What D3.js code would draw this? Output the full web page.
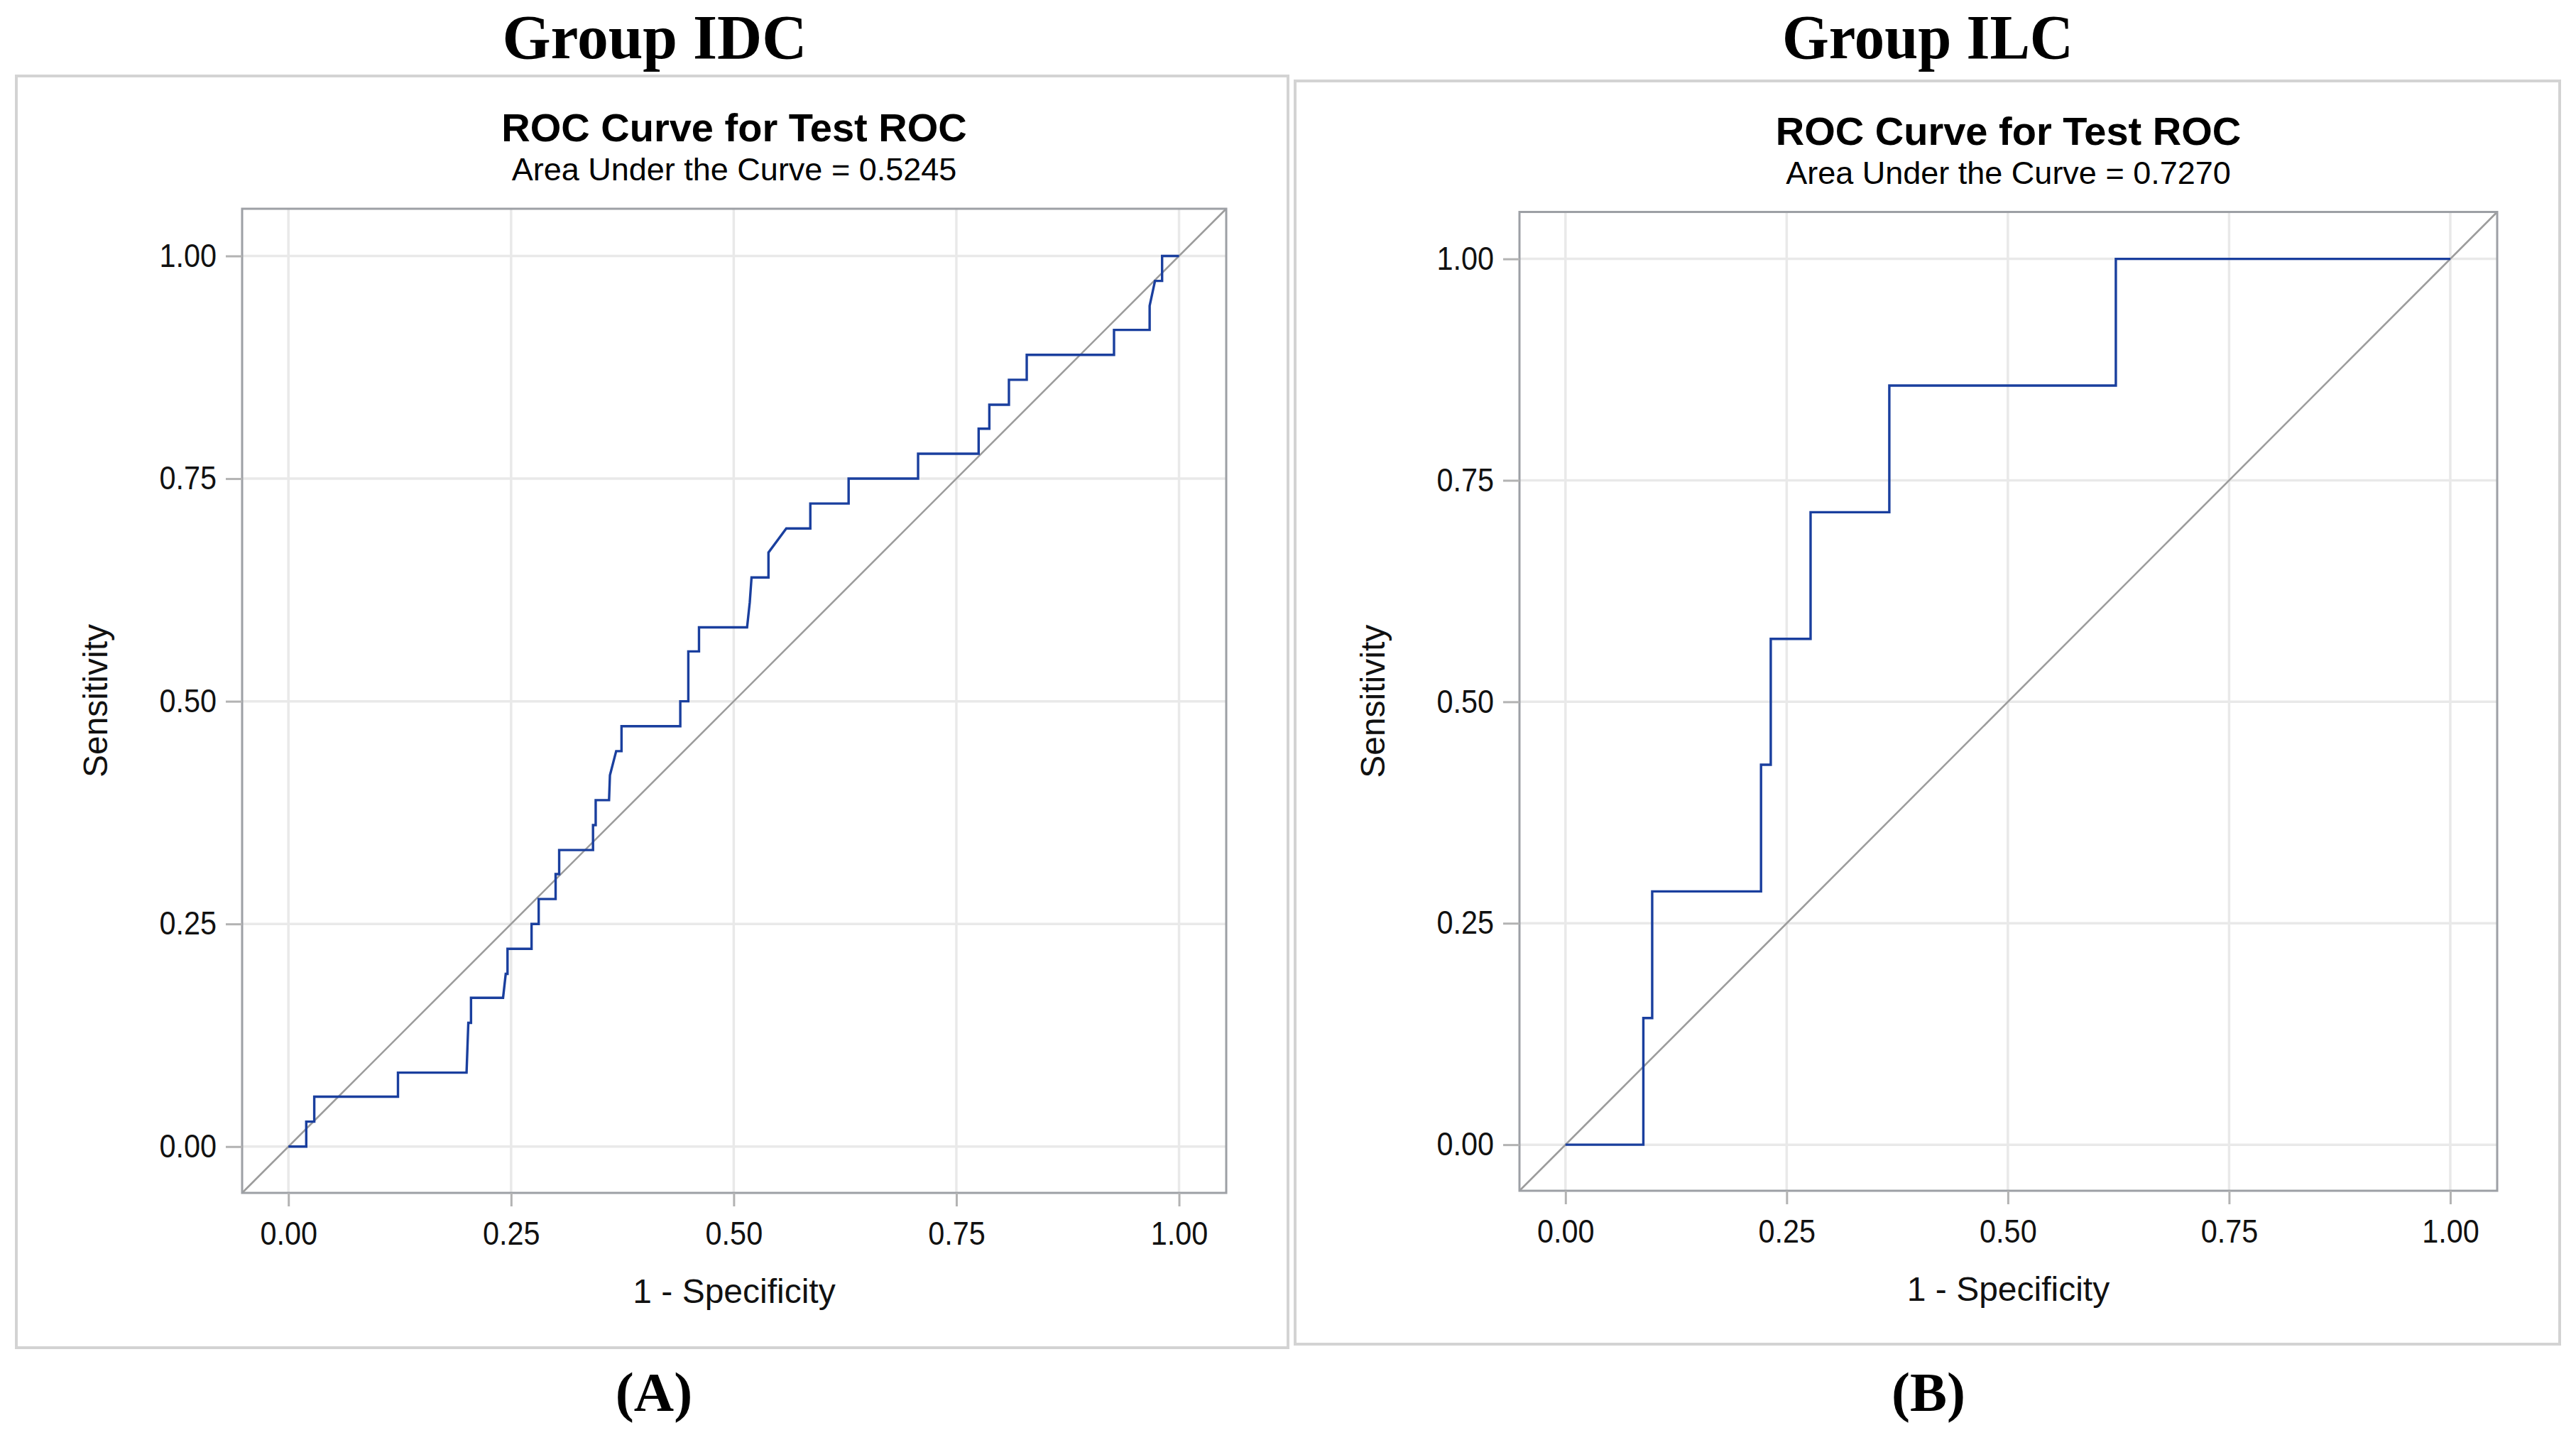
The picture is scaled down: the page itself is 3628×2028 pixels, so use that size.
<!DOCTYPE html>
<html><head><meta charset="utf-8">
<script src="https://cdn.jsdelivr.net/npm/d3@7"></script>
<style>body{margin:0;background:#fff}svg{display:block}</style>
</head><body>
<svg id="chart" width="3628" height="2028"></svg>
<script>
// ---- data ----
const fprA = [0.000,0.020,0.020,0.029,0.029,0.123,0.123,0.200,0.201,0.202,0.205,0.205,0.241,0.244,0.246,0.246,0.273,0.273,0.281,0.281,0.300,0.300,0.304,0.304,0.342,0.342,0.345,0.345,0.360,0.361,0.368,0.374,0.374,0.440,0.440,0.449,0.449,0.461,0.461,0.515,0.518,0.520,0.539,0.539,0.559,0.586,0.586,0.629,0.629,0.707,0.707,0.775,0.775,0.787,0.787,0.809,0.809,0.829,0.829,0.927,0.927,0.967,0.967,0.973,0.981,0.981,1.000];
const tprA = [0.000,0.000,0.028,0.028,0.056,0.056,0.083,0.083,0.111,0.139,0.139,0.167,0.167,0.194,0.194,0.222,0.222,0.250,0.250,0.278,0.278,0.306,0.306,0.333,0.333,0.361,0.361,0.389,0.389,0.417,0.444,0.444,0.472,0.472,0.500,0.500,0.556,0.556,0.583,0.583,0.611,0.639,0.639,0.667,0.694,0.694,0.722,0.722,0.750,0.750,0.778,0.778,0.806,0.806,0.833,0.833,0.861,0.861,0.889,0.889,0.917,0.917,0.944,0.972,0.972,1.000,1.000];
const fprB = [0.000,0.088,0.088,0.098,0.098,0.221,0.221,0.232,0.232,0.277,0.277,0.366,0.366,0.622,0.622,1.000];
const tprB = [0.000,0.000,0.143,0.143,0.286,0.286,0.429,0.429,0.571,0.571,0.714,0.714,0.857,0.857,1.000,1.000];
const tickValues = [0, 0.25, 0.5, 0.75, 1];
const tickLabels = ["0.00", "0.25", "0.50", "0.75", "1.00"];
const groupTitles = ["Group IDC", "Group ILC"];
const panelLetters = ["(A)", "(B)"];
const aucValues = ["0.5245", "0.7270"];
const plotTitle = "ROC Curve for Test ROC";
const xLabel = "1 - Specificity";
const yLabel = "Sensitivity";
const axisDomain = [-0.052, 1.053];

// ---- layout ----
const panels = [
  {fpr: fprA, tpr: tprA, frame: [23, 107, 1814, 1898], box: [341, 294, 1727, 1680], gx: 922, gw: 429, lx: 921},
  {fpr: fprB, tpr: tprB, frame: [1824, 114, 3605, 1893], box: [2140, 298.5, 3517, 1677], gx: 2715, gw: 410, lx: 2716}
];
const SANS = "'Liberation Sans', Arial, Helvetica, sans-serif";
const SERIF = "'Liberation Serif', 'Times New Roman', serif";

const svg = d3.select("#chart");
svg.append("rect").attr("width", 3628).attr("height", 2028).attr("fill", "#fff");

function squeeze(sel, ratio) {
  sel.each(function () {
    const w = this.getComputedTextLength();
    d3.select(this).attr("textLength", w * ratio).attr("lengthAdjust", "spacingAndGlyphs");
  });
}

panels.forEach((p, i) => {
  const [fx0, fy0, fx1, fy1] = p.frame;
  const [bx0, by0, bx1, by1] = p.box;
  const cx = (bx0 + bx1) / 2, cy = (by0 + by1) / 2;

  // outer panel frame
  svg.append("rect").attr("x", fx0).attr("y", fy0).attr("width", fx1 - fx0).attr("height", fy1 - fy0)
    .attr("fill", "none").attr("stroke", "#d3d3d3").attr("stroke-width", 4);

  // group title & letter
  svg.append("text").attr("x", p.gx).attr("y", 82).attr("text-anchor", "middle")
    .attr("font-family", SERIF).attr("font-weight", "bold").attr("font-size", 88)
    .attr("textLength", p.gw).attr("lengthAdjust", "spacingAndGlyphs").text(groupTitles[i]);
  svg.append("text").attr("x", p.lx).attr("y", 1987).attr("text-anchor", "middle")
    .attr("font-family", SERIF).attr("font-weight", "bold").attr("font-size", 78).text(panelLetters[i]);

  // plot titles
  svg.append("text").attr("x", cx).attr("y", by0 - 95).attr("text-anchor", "middle")
    .attr("font-family", SANS).attr("font-weight", "bold").attr("font-size", 56).attr("fill", "#000").text(plotTitle);
  svg.append("text").attr("x", cx).attr("y", by0 - 40).attr("text-anchor", "middle")
    .attr("font-family", SANS).attr("font-size", 45).attr("fill", "#000").text("Area Under the Curve = " + aucValues[i]);

  const x = d3.scaleLinear().domain(axisDomain).range([bx0, bx1]);
  const y = d3.scaleLinear().domain(axisDomain).range([by1, by0]);

  const g = svg.append("g");
  // gridlines
  g.selectAll(".gx").data(tickValues).enter().append("line")
    .attr("x1", d => x(d)).attr("x2", d => x(d)).attr("y1", by0).attr("y2", by1)
    .attr("stroke", "#e9e9e9").attr("stroke-width", 3.5);
  g.selectAll(".gy").data(tickValues).enter().append("line")
    .attr("y1", d => y(d)).attr("y2", d => y(d)).attr("x1", bx0).attr("x2", bx1)
    .attr("stroke", "#e9e9e9").attr("stroke-width", 3.5);

  // reference diagonal
  g.append("line").attr("x1", x(axisDomain[0])).attr("y1", y(axisDomain[0]))
    .attr("x2", x(axisDomain[1])).attr("y2", y(axisDomain[1]))
    .attr("stroke", "#9c9c9c").attr("stroke-width", 2.6);

  // ROC curve
  const pts = p.fpr.map((v, k) => [v, p.tpr[k]]);
  g.append("path").datum(pts)
    .attr("d", d3.line().x(d => x(d[0])).y(d => y(d[1])))
    .attr("fill", "none").attr("stroke", "#1a3f9e").attr("stroke-width", 3.4)
    .attr("stroke-linejoin", "miter");

  // plot frame
  g.append("rect").attr("x", bx0).attr("y", by0).attr("width", bx1 - bx0).attr("height", by1 - by0)
    .attr("fill", "none").attr("stroke", "#9da0a5").attr("stroke-width", 3);

  // axes
  const xa = svg.append("g").attr("transform", `translate(0,${by1})`)
    .call(d3.axisBottom(x).tickValues(tickValues).tickFormat((d, k) => tickLabels[k]).tickSize(19).tickPadding(21));
  const ya = svg.append("g").attr("transform", `translate(${bx0},0)`)
    .call(d3.axisLeft(y).tickValues(tickValues).tickFormat((d, k) => tickLabels[k]).tickSize(23).tickPadding(13));
  [xa, ya].forEach(a => {
    a.select(".domain").remove();
    a.selectAll(".tick line").attr("stroke", "#b3b3b3").attr("stroke-width", 3);
    a.selectAll(".tick text").attr("font-family", SANS).attr("font-size", 46).attr("fill", "#111");
    squeeze(a.selectAll(".tick text"), 0.9);
  });

  // axis labels
  svg.append("text").attr("x", cx).attr("y", by1 + 155).attr("text-anchor", "middle")
    .attr("font-family", SANS).attr("font-size", 48).attr("fill", "#111").text(xLabel);
  svg.append("text").attr("transform", `translate(${bx0 - 190},${cy}) rotate(-90)`).attr("text-anchor", "middle")
    .attr("font-family", SANS).attr("font-size", 48).attr("fill", "#111").text(yLabel);
});
</script>
</body></html>
